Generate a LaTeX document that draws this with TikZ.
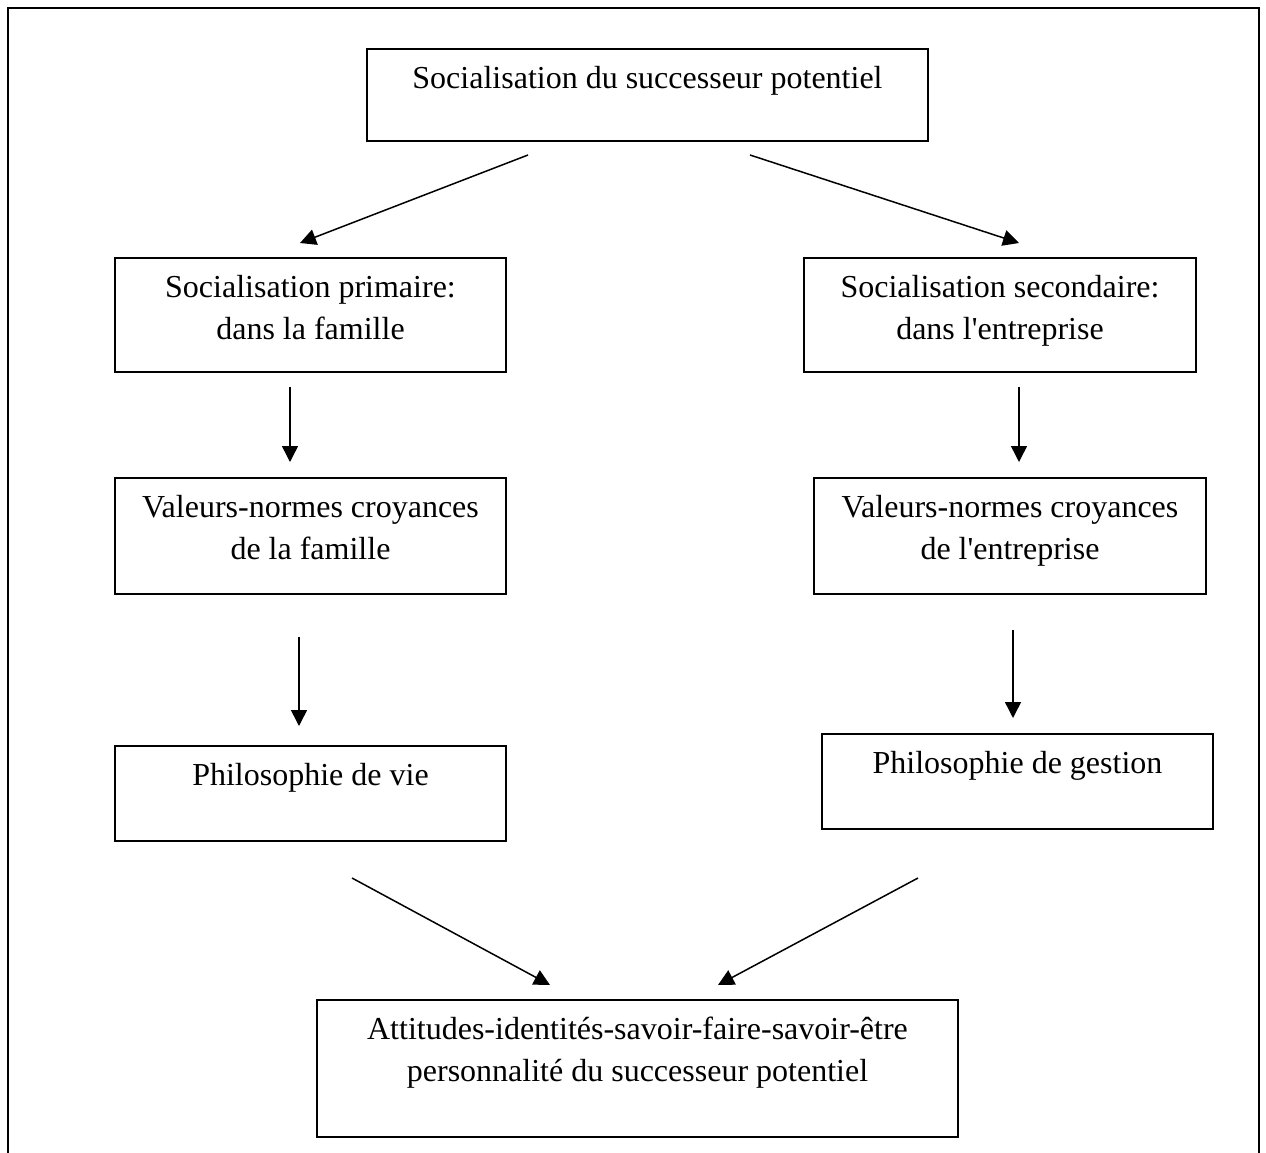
\documentclass[tikz,border=0pt]{standalone}
\usepackage{fontspec}
\setmainfont{Liberation Serif}
\usetikzlibrary{arrows.meta}

\tikzset{
  frame/.style={line width=1.9pt},
  box/.style={draw, rectangle, line width=1.9pt, inner sep=0pt},
  txt/.style={anchor=north, align=center, inner sep=0pt,
              font=\fontsize{32}{42}\selectfont},
  arr/.style={line width=1.5pt, -{Triangle[length=16pt,width=16pt]}},
}

\begin{document}
\begin{tikzpicture}[x=1pt, y=-1pt]
  \useasboundingbox (0,0) rectangle (1266,1153);

  % surrounding frame (open at the bottom)
  \draw[frame] (8,1153) -- (8,8) -- (1259,8) -- (1259,1153);

  % boxes
  \node[box, minimum width=561, minimum height=92]  (top) at (647.5,95)   {};
  \node[box, minimum width=391, minimum height=114] (l2)  at (310.5,315)  {};
  \node[box, minimum width=392, minimum height=114] (r2)  at (1000,315)   {};
  \node[box, minimum width=391, minimum height=116] (l3)  at (310.5,536)  {};
  \node[box, minimum width=392, minimum height=116] (r3)  at (1010,536)   {};
  \node[box, minimum width=391, minimum height=95]  (l4)  at (310.5,793.5){};
  \node[box, minimum width=391, minimum height=95]  (r4)  at (1017.5,781.5){};
  \node[box, minimum width=641, minimum height=137] (bot) at (637.5,1068.5){};

  % texts, set from the top of each box
  \node[txt] (topt) at ([yshift=-10.6pt]top.north) {\strut Socialisation du successeur potentiel};
  \node[txt] (l2t)  at ([yshift=-10.6pt]l2.north)  {\strut Socialisation primaire:\\dans la famille};
  \node[txt] (r2t)  at ([yshift=-10.6pt]r2.north)  {\strut Socialisation secondaire:\\dans l\textquotesingle entreprise};
  \node[txt] (l3t)  at ([yshift=-10.6pt]l3.north)  {\strut Valeurs-normes croyances\\de la famille};
  \node[txt] (r3t)  at ([yshift=-10.6pt]r3.north)  {\strut Valeurs-normes croyances\\de l\textquotesingle entreprise};
  \node[txt] (l4t)  at ([yshift=-10.6pt]l4.north)  {\strut Philosophie de vie};
  \node[txt] (r4t)  at ([yshift=-10.6pt]r4.north)  {\strut Philosophie de gestion};
  \node[txt] (bott) at ([yshift=-10.6pt]bot.north) {\strut Attitudes-identités-savoir-faire-savoir-être\\personnalité du successeur potentiel};

  % arrow end points
  \coordinate (a1s) at (528,155);  \coordinate (a1e) at (300,243);
  \coordinate (a2s) at (750,155);  \coordinate (a2e) at (1019,243);
  \coordinate (a3s) at (290,387);  \coordinate (a3e) at (290,462);
  \coordinate (a4s) at (1019,387); \coordinate (a4e) at (1019,462);
  \coordinate (a5s) at (299,637);  \coordinate (a5e) at (299,726);
  \coordinate (a6s) at (1013,630); \coordinate (a6e) at (1013,718);
  \coordinate (a7s) at (352,878);  \coordinate (a7e) at (550,985);
  \coordinate (a8s) at (918,878);  \coordinate (a8e) at (718,985);

  \draw[arr] (a1s) -- (a1e);
  \draw[arr] (a2s) -- (a2e);
  \draw[arr] (a3s) -- (a3e);
  \draw[arr] (a4s) -- (a4e);
  \draw[arr] (a5s) -- (a5e);
  \draw[arr] (a6s) -- (a6e);
  \draw[arr] (a7s) -- (a7e);
  \draw[arr] (a8s) -- (a8e);
\end{tikzpicture}
\end{document}
